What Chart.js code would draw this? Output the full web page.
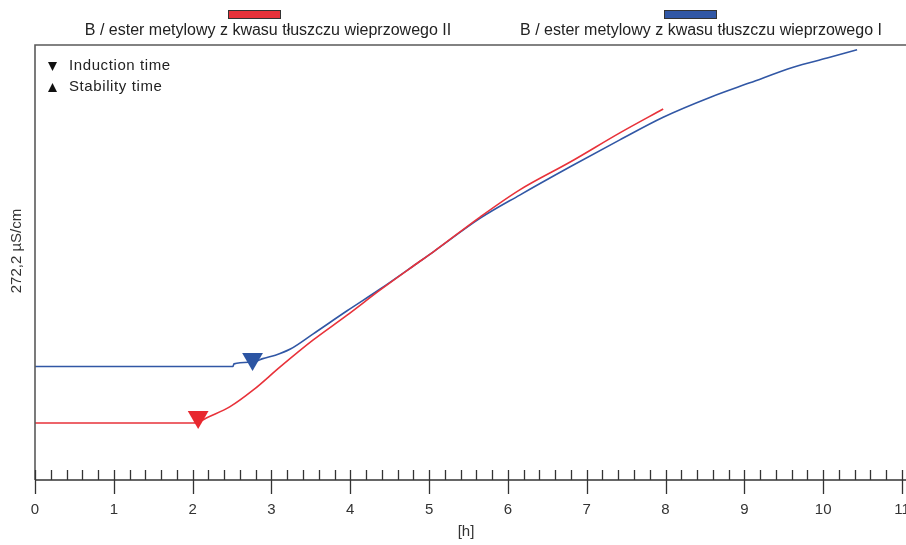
<!DOCTYPE html>
<html>
<head>
<meta charset="utf-8">
<script src="https://cdn.jsdelivr.net/npm/chart.js@4.4.1/dist/chart.umd.min.js"></script>
<style>
html,body{margin:0;padding:0;background:#fff;}
#wrap{width:906px;height:545px;position:relative;}
</style>
</head>
<body>
<div id="wrap"><canvas id="c" width="906" height="545"></canvas></div>
<script>
// ---- data (hours vs. relative conductivity, 0..100 of full scale 272,2 µS/cm) ----
const seriesNames = ["B / ester metylowy z kwasu tłuszczu wieprzowego II", "B / ester metylowy z kwasu tłuszczu wieprzowego I"];
const redT = [0, 1, 2.005, 2.07, 2.18, 2.47, 2.77, 3.11, 3.53, 3.96, 4.38, 4.80, 5.05, 5.65, 6.15, 6.79, 7.42, 7.97];
const redV = [13.1, 13.1, 13.1, 13.3, 14.3, 16.8, 20.7, 26.0, 32.2, 37.9, 43.7, 49.2, 52.4, 60.5, 66.7, 73.1, 79.8, 85.3];
const blueT = [0, 2.51, 2.525, 2.77, 2.89, 3.05, 3.24, 3.53, 3.96, 4.38, 4.80, 5.05, 5.65, 6.15, 6.79, 7.42, 7.97, 8.57, 9.07, 9.62, 10.05, 10.43];
const blueV = [26.1, 26.1, 26.7, 27.1, 27.9, 28.7, 30.1, 33.6, 38.9, 43.9, 49.2, 52.4, 60.2, 65.5, 72.0, 78.2, 83.4, 88.0, 91.3, 94.9, 97.0, 98.9];
const inductionRed = {x: 2.07, y: 14.5};
const inductionBlue = {x: 2.76, y: 27.8};
const xTickLabels = ["0","1","2","3","4","5","6","7","8","9","10","11"];
const yTitle = "272,2 µS/cm";
const xTitle = "[h]";
const markerLegend = ["Induction time", "Stability time"];

const RED = '#e8323a', BLUE = '#3157a5';
const FONT = '"Liberation Sans", Arial, sans-serif';

function pts(t, v){ return t.map((x,i)=>({x:x, y:v[i]})); }

const deco = {
  id: 'deco',
  afterDatasetsDraw(chart){
    const ctx = chart.ctx, a = chart.chartArea;
    const xs = chart.scales.x;
    ctx.save();
    // frame: top line and left axis
    ctx.strokeStyle = '#5a5a5a';
    ctx.lineWidth = 1.6;
    ctx.beginPath();
    ctx.moveTo(a.left, a.bottom);
    ctx.lineTo(a.left, a.top);
    ctx.lineTo(906, a.top);
    ctx.stroke();
    // x axis
    ctx.strokeStyle = '#333';
    ctx.lineWidth = 1.4;
    ctx.beginPath();
    ctx.moveTo(a.left, a.bottom);
    ctx.lineTo(906, a.bottom);
    ctx.stroke();
    // ticks
    ctx.lineWidth = 1.3;
    ctx.beginPath();
    for (let i = 0; i <= 55; i++){
      const v = i * 0.2;
      const px = Math.round(xs.getPixelForValue(v)) + 0.5;
      if (i % 5 === 0){
        ctx.moveTo(px, a.bottom - 10);
        ctx.lineTo(px, a.bottom + 14);
      } else {
        ctx.moveTo(px, a.bottom - 10);
        ctx.lineTo(px, a.bottom);
      }
    }
    ctx.stroke();
    // tick labels
    ctx.fillStyle = '#333';
    ctx.font = '15px ' + FONT;
    ctx.textAlign = 'center';
    ctx.textBaseline = 'middle';
    xTickLabels.forEach((l,i)=>{
      ctx.fillText(l, xs.getPixelForValue(i), 510);
    });
    // x title
    ctx.fillText(xTitle, 466, 532);
    // y title
    ctx.save();
    ctx.translate(17, 251);
    ctx.rotate(-Math.PI/2);
    ctx.fillText(yTitle, 0, 0);
    ctx.restore();
    // series legend
    const leg = [{c:RED, sx:228, tx:268}, {c:BLUE, sx:664, tx:701}];
    ctx.font = '16px ' + FONT;
    leg.forEach((g,i)=>{
      ctx.fillStyle = g.c;
      ctx.fillRect(g.sx, 10, 53, 9);
      ctx.strokeStyle = '#333';
      ctx.lineWidth = 1;
      ctx.strokeRect(g.sx + 0.5, 10.5, 52, 8);
      ctx.fillStyle = '#222';
      ctx.fillText(seriesNames[i], g.tx, 31);
    });
    // marker legend
    ctx.fillStyle = '#111';
    ctx.beginPath();
    ctx.moveTo(48, 62); ctx.lineTo(57, 62); ctx.lineTo(52.5, 71); ctx.closePath();
    ctx.fill();
    ctx.beginPath();
    ctx.moveTo(48, 92); ctx.lineTo(57, 92); ctx.lineTo(52.5, 83); ctx.closePath();
    ctx.fill();
    ctx.fillStyle = '#222';
    ctx.textAlign = 'left';
    ctx.font = '15px ' + FONT;
    try { ctx.letterSpacing = '0.6px'; } catch(e) {}
    ctx.fillText(markerLegend[0], 69, 66);
    ctx.fillText(markerLegend[1], 69, 87);
    try { ctx.letterSpacing = '0px'; } catch(e) {}
    ctx.restore();
  }
};

new Chart(document.getElementById('c'), {
  type: 'scatter',
  data: {
    datasets: [
      {label: seriesNames[1], data: pts(blueT, blueV), showLine: true, borderColor: BLUE, borderWidth: 1.6, pointRadius: 0, cubicInterpolationMode: 'monotone', order: 3},
      {label: seriesNames[0], data: pts(redT, redV), showLine: true, borderColor: RED, borderWidth: 1.6, pointRadius: 0, cubicInterpolationMode: 'monotone', order: 2},
      {label: 'ind1', data: [inductionRed], pointStyle: 'triangle', rotation: 180, radius: 12, backgroundColor: '#e8282f', borderColor: '#e8282f', borderWidth: 0, order: 1},
      {label: 'ind2', data: [inductionBlue], pointStyle: 'triangle', rotation: 180, radius: 12, backgroundColor: '#2c55a3', borderColor: '#2c55a3', borderWidth: 0, order: 1}
    ]
  },
  options: {
    responsive: false,
    animation: false,
    devicePixelRatio: 1,
    layout: {autoPadding: false, padding: {left: 35, right: 4, top: 45, bottom: 65}},
    plugins: {legend: {display: false}, tooltip: {enabled: false}},
    scales: {
      x: {type: 'linear', min: 0, max: 11, display: false},
      y: {type: 'linear', min: 0, max: 100, display: false}
    }
  },
  plugins: [deco]
});
</script>
</body>
</html>
